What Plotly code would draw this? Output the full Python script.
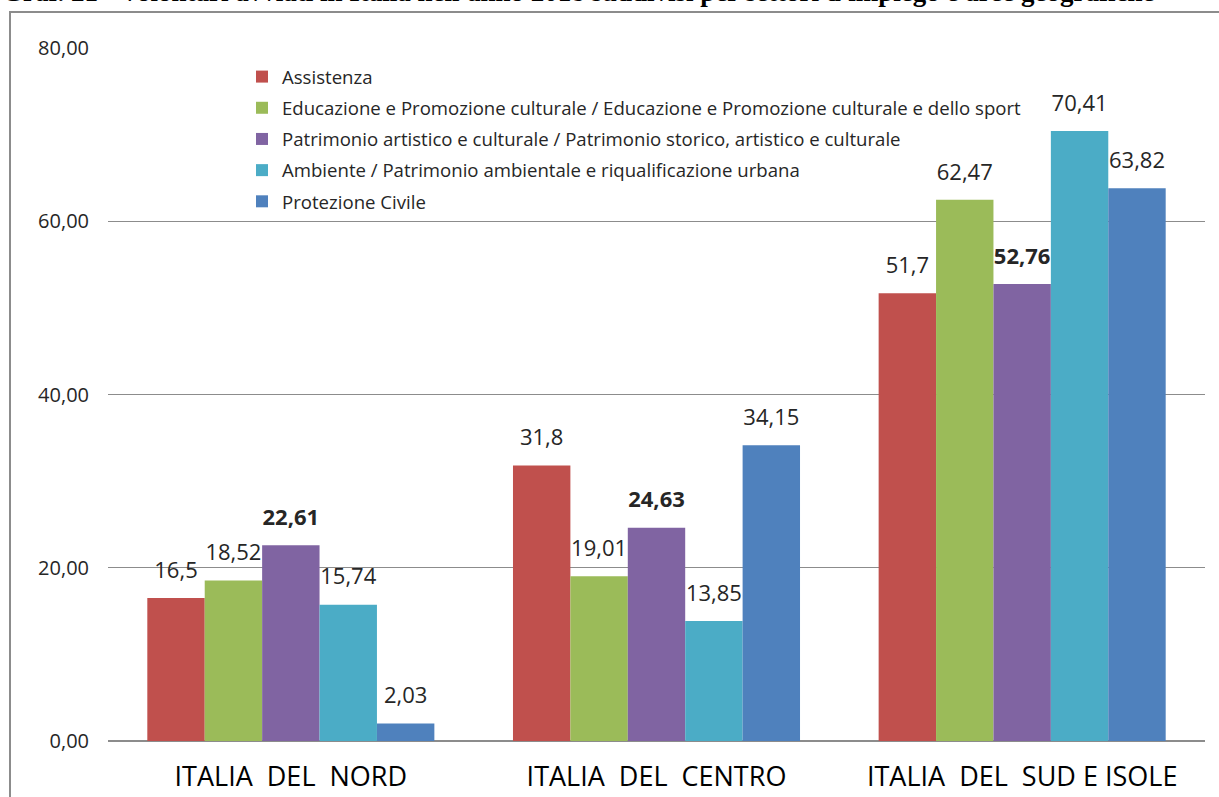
import plotly.graph_objects as go

categories = ["ITALIA  DEL  NORD", "ITALIA  DEL  CENTRO", "ITALIA  DEL  SUD E ISOLE"]
series_names = [
    "Assistenza",
    "Educazione e Promozione culturale / Educazione e Promozione culturale e dello sport",
    "Patrimonio artistico e culturale / Patrimonio storico, artistico e culturale",
    "Ambiente / Patrimonio ambientale e riqualificazione urbana",
    "Protezione Civile",
]
assistenza = [16.5, 31.8, 51.7]
educazione = [18.52, 19.01, 62.47]
patrimonio = [22.61, 24.63, 52.76]
ambiente = [15.74, 13.85, 70.41]
protezione = [2.03, 34.15, 63.82]

labels_assistenza = ["16,5", "31,8", "51,7"]
labels_educazione = ["18,52", "19,01", "62,47"]
labels_patrimonio = ["<b>22,61</b>", "<b>24,63</b>", "<b>52,76</b>"]
labels_ambiente = ["15,74", "13,85", "70,41"]
labels_protezione = ["2,03", "34,15", "63,82"]

colors = ["#C0504D", "#9BBB59", "#8064A2", "#4BACC6", "#4F81BD"]
values = [assistenza, educazione, patrimonio, ambiente, protezione]
labels = [labels_assistenza, labels_educazione, labels_patrimonio, labels_ambiente, labels_protezione]

FONT = "Open Sans, sans-serif"
BARGAP = 0.215

fig = go.Figure()
for i, (name, vals, lab, col) in enumerate(zip(series_names, values, labels, colors)):
    fig.add_trace(go.Bar(
        x=categories, y=vals, name=name, marker_color=col, marker_line_width=0,
        legendgroup=f"g{i}", offsetgroup=f"o{i}",
    ))
for i, (vals, lab) in enumerate(zip(values, labels)):
    fig.add_trace(go.Scatter(
        x=categories, y=vals, mode="markers+text", text=lab,
        textposition="top center",
        textfont=dict(size=22, color="#262626", family=FONT),
        marker=dict(size=22, opacity=0), showlegend=False, hoverinfo="skip",
        offsetgroup=f"o{i}", cliponaxis=False,
    ))

W, H = 1219, 797
L, R, T, B = 108, 14, 48, 56
pw, ph = W - L - R, H - T - B

def px_x(p):
    return (p - L) / pw

def px_y(p):
    return (H - B - p) / ph

fig.update_layout(
    width=W, height=H,
    margin=dict(l=L, r=R, t=T, b=B, autoexpand=False),
    plot_bgcolor="white", paper_bgcolor="white",
    barmode="group", bargap=BARGAP, bargroupgap=0,
    scattermode="group", scattergap=BARGAP,
    separators=",.",
    showlegend=True,
    legend=dict(
        x=px_x(242), y=px_y(58), xanchor="left", yanchor="top",
        font=dict(size=18.6, family=FONT, color="#262626"),
        bgcolor="rgba(0,0,0,0)", tracegroupgap=4, itemwidth=30,
    ),
    yaxis=dict(
        range=[0, 80], tickvals=[0, 20, 40, 60, 80], tickformat=".2f",
        showgrid=True, gridcolor="#8c8c8c", gridwidth=1,
        zeroline=True, zerolinecolor="#8c8c8c", zerolinewidth=2,
        tickfont=dict(size=20, family=FONT, color="#262626"),
        ticks="", ticklen=0, showline=False, automargin=False,
        ticklabelstandoff=18,
    ),
    xaxis=dict(
        tickfont=dict(size=27, family=FONT, color="#000000"),
        showline=False, ticks="", automargin=False, ticklabelstandoff=17,
    ),
    font=dict(family=FONT),
    shapes=[
        dict(type="rect", xref="paper", yref="paper",
             x0=px_x(10), x1=px_x(1230), y0=px_y(820), y1=px_y(12),
             line=dict(color="#8c8c8c", width=2), fillcolor="rgba(0,0,0,0)", layer="below"),
    ],
    annotations=[
        dict(text="<b>Graf. 21 - Volontari avviati in Italia nell'anno 2018 suddivisi per settori d'impiego e aree geografiche</b>",
             xref="paper", yref="paper", x=px_x(0), y=px_y(9.5), xanchor="left", yanchor="bottom",
             showarrow=False, font=dict(family="Liberation Serif, Times New Roman, serif", size=27, color="black")),
    ],
)

fig.write_html("out.html", config={"displayModeBar": False},
               post_script="document.body.style.margin='0';document.body.style.overflow='hidden';")
